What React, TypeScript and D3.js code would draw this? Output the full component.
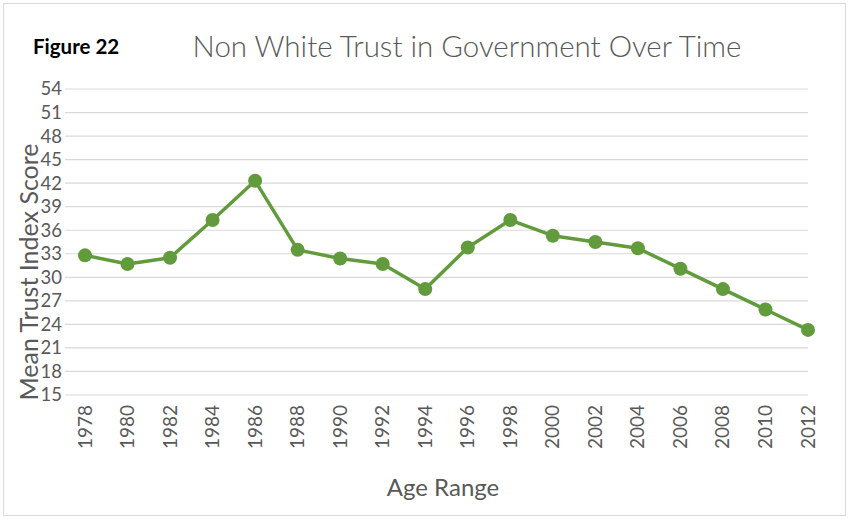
import React from "react";
import * as d3 from "d3";

const years = ["1978","1980","1982","1984","1986","1988","1990","1992","1994","1996","1998","2000","2002","2004","2006","2008","2010","2012"];
const scores = [32.8, 31.7, 32.5, 37.3, 42.3, 33.5, 32.4, 31.7, 28.5, 33.8, 37.3, 35.3, 34.5, 33.7, 31.1, 28.5, 25.9, 23.3];
const yTicks = [15, 18, 21, 24, 27, 30, 33, 36, 39, 42, 45, 48, 51, 54];

const W = 849, H = 519;
const left = 85, right = 808, top = 89, bottom = 395;
const font = "Lato, 'Open Sans', sans-serif";
const green = "#629b3c";

export default function App() {
  const x = d3.scalePoint<string>().domain(years).range([left, right]);
  const y = d3.scaleLinear().domain([15, 54]).range([bottom, top]);
  const line = d3.line<number>().x((_, i) => x(years[i])!).y(d => y(d));
  return (
    <svg width={W} height={H} style={{ position: "absolute", left: 0, top: 0, background: "#fff" }}>
      <rect x={3.5} y={3.5} width={W - 7} height={H - 7} fill="#fff" stroke="#d9d9d9" strokeWidth={1} />
      <text x={33} y={54} fontFamily={font} fontWeight="bold" fontSize={20.5} fill="#000">Figure 22</text>
      <text x={467} y={57} textAnchor="middle" fontFamily={font} fontWeight={300} fontSize={29.5} fill="#595959">Non White Trust in Government Over Time</text>
      {yTicks.map(t => (
        <g key={t}>
          <line x1={left - 20} x2={right} y1={y(t)} y2={y(t)} stroke="#d9d9d9" strokeWidth={1.2} />
          <text x={62} y={y(t)} dy="0.35em" textAnchor="end" fontFamily={font} fontSize={18.5} fill="#595959">{t}</text>
        </g>
      ))}
      {years.map(yr => (
        <text key={yr} transform={`translate(${x(yr)! + 6.5},${405}) rotate(-90)`} textAnchor="end" fontFamily={font} fontSize={19} fill="#595959">{yr}</text>
      ))}
      <text x={443} y={496} textAnchor="middle" fontFamily={font} fontSize={24} fill="#595959">Age Range</text>
      <text transform={`translate(38,${272}) rotate(-90)`} textAnchor="middle" fontFamily={font} fontSize={25} fill="#595959">Mean Trust Index  Score</text>
      <path d={line(scores)!} fill="none" stroke={green} strokeWidth={3.5} strokeLinejoin="round" />
      {scores.map((s, i) => (
        <circle key={i} cx={x(years[i])!} cy={y(s)} r={7} fill={green} />
      ))}
    </svg>
  );
}
